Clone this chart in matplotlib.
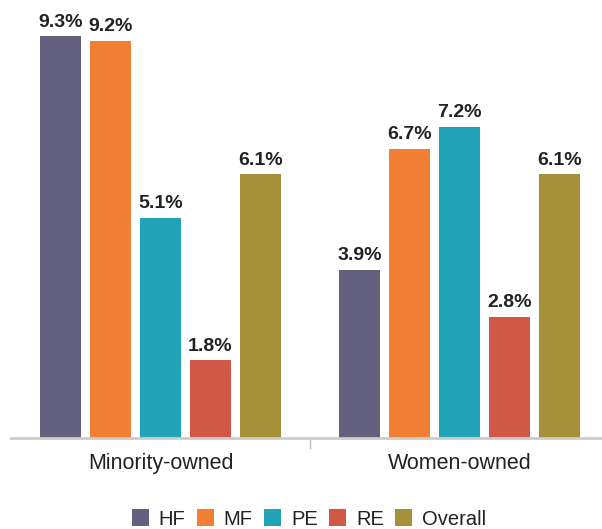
import matplotlib
matplotlib.use('Agg')
import matplotlib.pyplot as plt
from matplotlib.patches import Patch
import numpy as np

# datos
grupos = ['Minority-owned', 'Women-owned']
series = ['HF', 'MF', 'PE', 'RE', 'Overall']
valores = {
    'HF': [9.3, 3.9],
    'MF': [9.2, 6.7],
    'PE': [5.1, 7.2],
    'RE': [1.8, 2.8],
    'Overall': [6.1, 6.1],
}
colores = ['#64607F', '#F27F36', '#22A4B8', '#CF5946', '#A6903A']

plt.rcParams['font.family'] = ['Liberation Sans', 'DejaVu Sans']

W, H = 602, 529
fig = plt.figure(figsize=(W/100, H/100), dpi=100)
ax = fig.add_axes([11/W, (H-438)/H, 598/W, 438/H])

x = np.arange(len(grupos))
paso = 0.167
ancho = 0.137
for i, s in enumerate(series):
    pos = x + (i - 2)*paso
    barras = ax.bar(pos, valores[s], width=ancho, color=colores[i], label=s, zorder=2)
    for b, v in zip(barras, valores[s]):
        ax.annotate(f'{v:.1f}%', (b.get_x() + b.get_width()/2, v),
                    xytext=(0, 4), textcoords='offset points',
                    ha='center', va='bottom', fontsize=14,
                    fontweight='bold', color='#222222')

ax.set_xlim(-0.5, 1.5)
ax.set_ylim(0, 438/43.2)
ax.set_yticks([])
ax.set_xticks(x)
ax.set_xticklabels(grupos, fontsize=15.5, color='#222222')
ax.tick_params(axis='x', length=0, pad=11)
# marca entre grupos
ax.plot([0.5, 0.5], [0, -0.23], color='#BBBBBB', lw=1, clip_on=False)
for lado in ['left', 'right', 'top']:
    ax.spines[lado].set_visible(False)
ax.spines['bottom'].set_color('#CCCCC8')
ax.spines['bottom'].set_linewidth(2)

handles = [Patch(facecolor=c, label=s) for s, c in zip(series, colores)]
fig.legend(handles=handles, loc='center', bbox_to_anchor=(309/W, 1 - 519/H),
           ncol=5, frameon=False, fontsize=14.5, handlelength=0.85,
           handleheight=0.85, handletextpad=0.5, columnspacing=0.55,
           borderpad=0, labelcolor='#222222')

fig.savefig('out.png', dpi=100)
